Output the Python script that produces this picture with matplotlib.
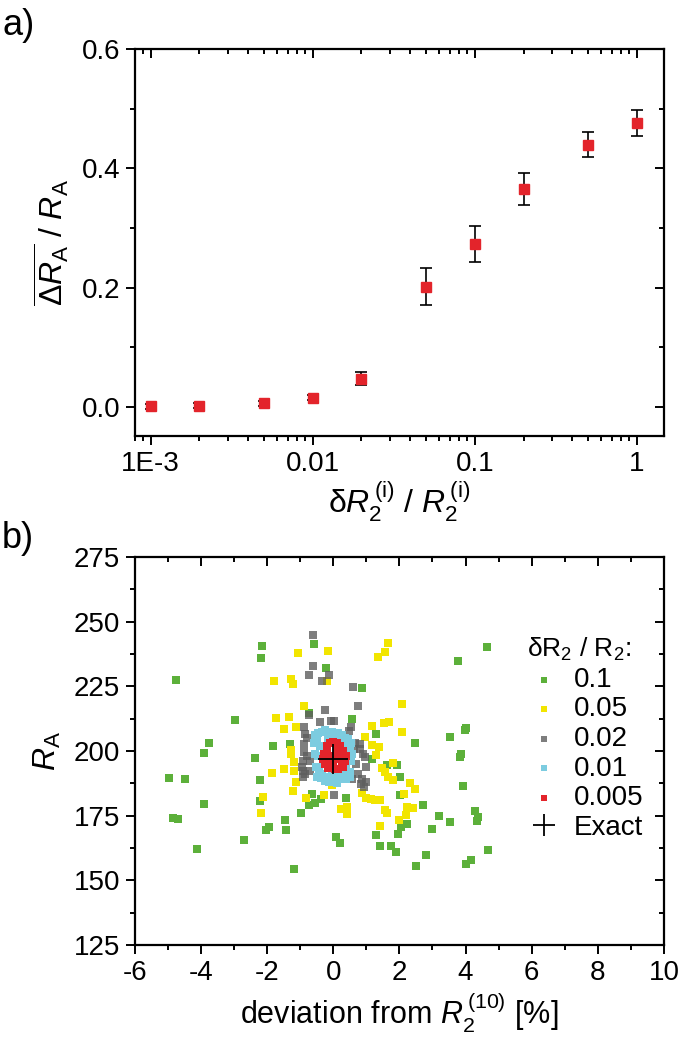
import numpy as np
import matplotlib
matplotlib.use("Agg")
import matplotlib.pyplot as plt
import matplotlib.lines as mlines
from matplotlib.ticker import FixedLocator, FixedFormatter, MultipleLocator, LogLocator, NullFormatter

plt.rcParams['font.family'] = ['Liberation Sans', 'DejaVu Sans']
plt.rcParams['mathtext.fontset'] = 'custom'
plt.rcParams['mathtext.rm'] = 'Liberation Sans'
plt.rcParams['mathtext.it'] = 'Liberation Sans:italic'
plt.rcParams['mathtext.bf'] = 'Liberation Sans:bold'
plt.rcParams['axes.unicode_minus'] = False

# panel a) data
rel_err = [0.001, 0.002, 0.005, 0.01, 0.02, 0.05, 0.1, 0.2, 0.5, 1]
mean_dev = [0.001, 0.002, 0.006, 0.015, 0.047, 0.201, 0.273, 0.366, 0.440, 0.476]
mean_dev_err = [0.004, 0.004, 0.004, 0.004, 0.011, 0.031, 0.030, 0.027, 0.021, 0.022]
top_ticks = [1e-3, 1e-2, 1e-1, 1]
top_labels = ['1E-3', '0.01', '0.1', '1']

# panel b) data
green_x = [-4.76, -2.20, -2.14, -0.57, 4.64, 3.78, -0.21, 0.87, -2.96, -3.77, -3.91, -2.38, -1.81, -4.98,
           -4.47, -2.22, -3.92, -4.84, -4.68, -4.13, -2.70, -2.02, -1.93, -1.47, -1.44, -1.19, -0.97, -0.72,
           -0.63, -0.54, -0.36, -2.22, -1.32, -0.74, 0.58, 0.09, 0.21, 0.38, 1.28, 1.16, 1.92, 2.01, 2.46,
           2.03, 2.71, 3.21, 3.52, 3.54, 3.85, 3.84, 3.99, 4.02, 3.93, 4.29, 4.38, 4.36, 4.67, 4.02, 4.16,
           2.79, 2.49, 1.28, 1.42, 1.75, 1.89, 1.95, 2.06, 2.24, 2.98, 1.62]
green_y = [227.4, 236.1, 240.5, 241.3, 240.1, 234.7, 232.0, 224.5, 212.1, 203.1, 199.1, 197.2, 201.9, 189.5,
           189.2, 188.8, 179.6, 174.2, 173.9, 162.2, 165.7, 169.5, 170.7, 173.5, 169.4, 154.5, 176.1, 179.1,
           183.2, 179.8, 181.3, 180.5, 202.6, 214.5, 212.5, 166.8, 164.5, 181.9, 206.6, 196.8, 194.6, 189.8,
           203.0, 183.0, 179.3, 174.7, 172.7, 205.3, 198.8, 197.8, 208.2, 208.9, 186.5, 176.7, 174.4, 173.1,
           161.6, 156.4, 157.7, 159.9, 155.5, 167.5, 163.1, 163.2, 161.1, 168.0, 170.8, 171.9, 169.8, 194.7]

yellow_x = [-1.06, -0.15, 1.64, 1.55, 1.35, -1.78, -1.28, -1.23, -0.18, -0.90, 2.08, -1.74, -1.34, -1.50,
            -1.12, 1.18, 1.52, 1.68, 2.08, 0.97, 1.17, 1.39, -1.29, -1.27, -1.19, -1.86, -1.50, -1.18, -1.13,
            -1.23, -0.82, -2.11, -2.19, -0.28, -0.03, 1.30, 1.47, 1.56, 1.64, 1.80, 1.82, 2.31, 2.48, 2.13,
            2.24, 2.42, 2.21, 1.98, 0.87, 1.00, 1.14, 1.26, 1.42, 1.57, 1.63, 1.42, 0.24, 0.41, 0.43]
yellow_y = [237.9, 238.6, 241.9, 238.4, 236.4, 227.2, 227.9, 225.8, 226.9, 217.2, 218.1, 212.6, 213.2, 208.4,
            209.4, 209.8, 210.7, 211.3, 207.2, 205.5, 202.4, 201.7, 200.5, 198.8, 195.9, 191.6, 192.9, 192.4,
            187.9, 184.7, 181.9, 182.4, 176.0, 182.8, 187.0, 198.5, 193.3, 191.8, 189.8, 195.4, 188.8, 187.7,
            185.3, 183.2, 178.3, 178.0, 175.1, 173.4, 183.8, 181.9, 181.3, 181.0, 181.0, 177.0, 176.0, 171.2,
            177.4, 178.5, 175.7]

gray_x = [-0.60, -0.61, -0.73, -0.34, -0.14, 0.61, 0.75, -0.26, -0.41, -0.06, 0.03, -0.73, -0.88, -0.86,
          -0.90, -0.88, -0.93, -0.92, -0.93, -0.71, 0.02, 0.53, 0.48, 0.80, 0.80, 0.64, 0.95, 0.98, 0.75,
          0.84, 0.99, 0.58, -0.21, -0.80, -0.78, -0.95, -0.85, -0.70, 0.90, 0.70, 0.88, 0.65, 0.92]
gray_y = [244.7, 232.8, 229.3, 227.1, 229.4, 224.8, 217.5, 215.8, 211.3, 211.7, 211.7, 214.0, 209.1, 206.6,
          202.7, 199.5, 196.3, 192.4, 189.8, 192.2, 182.8, 209.1, 207.6, 202.7, 200.8, 200.8, 197.8, 193.7,
          191.1, 187.3, 187.9, 189.2, 188.6, 205.0, 198.0, 194.0, 191.0, 196.0, 199.0, 195.0, 189.0, 203.0,
          186.0]

cyan_x = [-0.55, -0.45, -0.35, -0.25, -0.15, -0.05, 0.05, 0.15, 0.25, 0.35, 0.45, 0.55,
          -0.58, -0.48, -0.40, 0.42, 0.50, 0.58,
          -0.55, -0.45, 0.45, 0.55,
          -0.52, -0.42, 0.40, 0.52,
          -0.50, -0.38, -0.25, -0.12, 0.0, 0.12, 0.25, 0.38, 0.50,
          -0.35, -0.20, -0.05, 0.10, 0.22, 0.32,
          -0.15, 0.0, 0.15, 0.41, -0.30]
cyan_y = [206, 207, 207.5, 208, 207, 207.5, 206.5, 207, 206, 205, 204.6, 203,
          203, 204, 202, 202, 201, 199,
          199, 198, 197, 196,
          194, 193, 193, 192,
          190, 189.5, 188.5, 188, 188, 187.5, 189, 189, 190,
          191, 190, 190.5, 191, 190, 191.5,
          205, 204, 205.5, 204.6, 195.5]

red_x = [-0.28, -0.2, -0.1, 0.0, 0.1, 0.2, 0.3, 0.38, -0.25, -0.15, 0.05, 0.15, 0.25, 0.35, -0.3, -0.05,
         0.1, 0.3, -0.2, 0.0, 0.2, 0.12, -0.1]
red_y = [199, 202, 203, 203.5, 203, 202, 200, 198, 195, 193.5, 193, 193, 194.5, 196, 197, 198, 197, 194,
         200, 196, 199, 201, 196]

exact_x = [0.0]
exact_y = [196.8]


def style_axes(ax):
    for s in ax.spines.values():
        s.set_linewidth(1.6)
    ax.tick_params(which='both', direction='out', width=1.4, labelsize=20, pad=4,
                   top=True, right=True, labeltop=False, labelright=False)
    ax.tick_params(which='major', length=6.5)
    ax.tick_params(which='minor', length=3.5)


def flip_mirror_ticks(ax):
    # bottom/left stay outward, top/right point inward
    for t in ax.xaxis.get_major_ticks() + ax.xaxis.get_minor_ticks():
        t.tick1line.set_marker(mlines.TICKDOWN)
        t.tick2line.set_marker(mlines.TICKDOWN)
    for t in ax.yaxis.get_major_ticks() + ax.yaxis.get_minor_ticks():
        t.tick1line.set_marker(mlines.TICKLEFT)
        t.tick2line.set_marker(mlines.TICKLEFT)


fig = plt.figure(figsize=(6.81, 10.37), dpi=100)

# ---- panel a
ax1 = fig.add_axes([0.198, 0.5796, 0.777, 0.373])
ax1.errorbar(rel_err, mean_dev, yerr=mean_dev_err, fmt='s', color='#e3242b', ms=7,
             ecolor='black', elinewidth=1.2, capsize=4, capthick=1.2, zorder=3)
ax1.set_xscale('log')
ax1.set_xlim(8e-4, 1.47)
ax1.set_ylim(-0.049, 0.6)
ax1.xaxis.set_major_locator(FixedLocator(top_ticks))
ax1.xaxis.set_major_formatter(FixedFormatter(top_labels))
ax1.xaxis.set_minor_locator(LogLocator(base=10, subs=np.arange(2, 10)))
ax1.xaxis.set_minor_formatter(NullFormatter())
ax1.yaxis.set_major_locator(MultipleLocator(0.2))
ax1.yaxis.set_minor_locator(MultipleLocator(0.1))
ax1.yaxis.set_major_formatter(plt.FuncFormatter(lambda v, p: f'{v:.1f}'))
style_axes(ax1)
ax1.set_ylabel(r'$\overline{\Delta R_\mathrm{A}}\ /\ R_\mathrm{A}$', fontsize=23, labelpad=8)
ax1.set_xlabel(r'δ$R_2^{\,\mathrm{(i)}}$ / $R_2^{\,\mathrm{(i)}}$', fontsize=23, labelpad=2)

# ---- panel b
ax2 = fig.add_axes([0.198, 0.0887, 0.777, 0.3742])
ax2.scatter(green_x, green_y, marker='s', s=32, color='#5cb03a', linewidths=0, label='0.1', zorder=2)
ax2.scatter(yellow_x, yellow_y, marker='s', s=32, color='#f2e500', linewidths=0, label='0.05', zorder=3)
ax2.scatter(gray_x, gray_y, marker='s', s=32, color='#5e5e5e', alpha=0.8, linewidths=0, label='0.02', zorder=4)
ax2.scatter(cyan_x, cyan_y, marker='s', s=36, color='#7ccce0', linewidths=0, label='0.01', zorder=5)
ax2.scatter(red_x, red_y, marker='s', s=32, color='#e3242b', linewidths=0, label='0.005', zorder=6)
ax2.plot(exact_x, exact_y, marker='+', ms=22, mew=1.3, color='black', ls='none', label='Exact', zorder=7)
ax2.set_xlim(-6, 10)
ax2.set_ylim(125, 275)
ax2.xaxis.set_major_locator(MultipleLocator(2))
ax2.xaxis.set_minor_locator(MultipleLocator(1))
ax2.yaxis.set_major_locator(MultipleLocator(25))
ax2.yaxis.set_minor_locator(MultipleLocator(12.5))
style_axes(ax2)
ax2.set_ylabel(r'$R_\mathrm{A}$', fontsize=23, labelpad=8)
ax2.set_xlabel(r'deviation from $R_2^{\,(10)}$ [%]', fontsize=22, labelpad=4)

leg = ax2.legend(loc='upper left', bbox_to_anchor=(0.72, 0.825), frameon=False, fontsize=20,
                 title=r'δR$_2$ / R$_2$:', title_fontsize=19, handletextpad=0.5,
                 labelspacing=0.13, borderaxespad=0, markerscale=0.7, handlelength=1.2)
leg._legend_box.align = 'left'

fig.text(0.003, 0.992, 'a)', fontsize=26, va='top', ha='left')
fig.text(0.003, 0.498, 'b)', fontsize=26, va='top', ha='left')

fig.canvas.draw()
flip_mirror_ticks(ax1)
flip_mirror_ticks(ax2)

fig.savefig('out.png', dpi=100)
